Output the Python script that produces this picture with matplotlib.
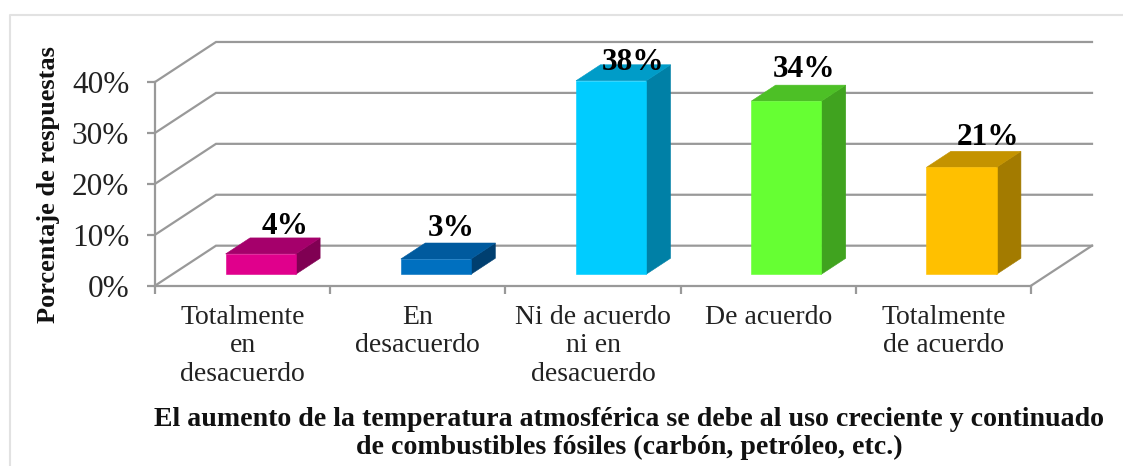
import matplotlib
matplotlib.use("Agg")
import matplotlib.pyplot as plt
from matplotlib.lines import Line2D
from matplotlib.patches import Polygon

plt.rcParams['font.family'] = ['Liberation Serif', 'DejaVu Serif']

categories = ["Totalmente\nen\ndesacuerdo", "En\ndesacuerdo", "Ni de acuerdo\nni en\ndesacuerdo",
              "De acuerdo", "Totalmente\nde acuerdo"]
values = [4, 3, 38, 34, 21]
y_ticks = [0, 10, 20, 30, 40]

front_colors = ["#E0008C", "#0070C0", "#00CCFF", "#66FF33", "#FFC000"]
top_colors = ["#A5006B", "#005A9E", "#009CC8", "#4DC026", "#C49300"]
side_colors = ["#800053", "#003F70", "#0080A6", "#40A31F", "#A37B00"]

W, H = 1123, 466
# axis box in pixels, measured from the top of the figure
LEFT, RIGHT, Y0, Y40 = 155, 1031, 285.7, 82

# depth of the 3d box, in data units
DEPTH_X = 61 / 175.2
DEPTH_Y = 40 / 5.09
BAR_WIDTH = 0.4
BAR_NEAR = 0.285
BAR_FAR = 0.685
BAR_SHIFT = 0.004
GRID = "#999999"
LW = 1.6

# label offsets from the bar top, in pixels
label_dx = [24, 15, 22, 18, 27]
label_dy = [27, 31, 18, 32, 30]

fig = plt.figure(figsize=(W / 100, H / 100), dpi=100, facecolor="white")
# outer frame: only the top and left edges show
fig.add_artist(Line2D([9.5 / W, 9.5 / W, 1], [0, 1 - 14.5 / H, 1 - 14.5 / H], transform=fig.transFigure,
                      color="#E2E2E2", lw=1.5))

ax = fig.add_axes([LEFT / W, 1 - Y0 / H, (RIGHT - LEFT) / W, (Y0 - Y40) / H])
ax.set_xlim(-0.5, 4.5)
ax.set_ylim(0, 40)
ax.patch.set_alpha(0)


def proj(x, y, d):
    return (x + d * DEPTH_X, y + d * DEPTH_Y)


# back wall and floor lines
for t in y_ticks:
    ax.plot(*zip(proj(-0.5, t, 0), proj(-0.5, t, 1), proj(4.5, t, 1)), color=GRID, lw=LW,
            clip_on=False, zorder=1, solid_joinstyle="miter")
ax.plot(*zip(proj(4.5, 0, 0), proj(4.5, 0, 1)), color=GRID, lw=LW, clip_on=False, zorder=1)

for i, v in enumerate(values):
    x0 = i - BAR_WIDTH / 2 + BAR_SHIFT
    x1 = i + BAR_WIDTH / 2 + BAR_SHIFT
    front = [proj(x0, 0, BAR_NEAR), proj(x1, 0, BAR_NEAR), proj(x1, v, BAR_NEAR), proj(x0, v, BAR_NEAR)]
    top = [proj(x0, v, BAR_NEAR), proj(x1, v, BAR_NEAR), proj(x1, v, BAR_FAR), proj(x0, v, BAR_FAR)]
    side = [proj(x1, 0, BAR_NEAR), proj(x1, 0, BAR_FAR), proj(x1, v, BAR_FAR), proj(x1, v, BAR_NEAR)]
    for pts, c in ((side, side_colors[i]), (top, top_colors[i]), (front, front_colors[i])):
        ax.add_patch(Polygon(pts, closed=True, facecolor=c, edgecolor=c, lw=0.4, clip_on=False, zorder=3))
    cx, cy = proj(i + BAR_SHIFT, v, BAR_NEAR)
    ax.annotate(f"{v}%", (cx, cy), xytext=(label_dx[i] * 0.72, label_dy[i] * 0.72), textcoords="offset points",
                ha="center", va="center", fontsize=22.5, fontweight="bold", color="black", zorder=5,
                annotation_clip=False)

for s in ("top", "right"):
    ax.spines[s].set_visible(False)
for s in ("left", "bottom"):
    ax.spines[s].set_color(GRID)
    ax.spines[s].set_linewidth(LW)

ax.set_yticks(y_ticks)
ax.set_yticklabels([f"{t}%" for t in y_ticks], fontsize=22.5, color="#222222")
ax.tick_params(axis="y", length=6, width=LW, color=GRID, pad=12.5)

# ticks sit on the category boundaries, labels between them
ax.set_xticks([i - 0.5 for i in range(len(categories) + 1)])
ax.set_xticklabels([])
ax.tick_params(axis="x", which="major", length=6, width=LW, color=GRID)
ax.set_xticks(range(len(categories)), minor=True)
ax.set_xticklabels(categories, minor=True, fontsize=20, color="#222222", linespacing=1.17, ma="center")
ax.tick_params(axis="x", which="minor", length=0, pad=14)

fig.text(49 / W, 1 - 185 / H, "Porcentaje de respuestas", rotation=90, ha="center", va="center",
         fontsize=19, fontweight="bold", color="#111111")
fig.text(629.5 / W, 1 - 433.5 / H,
         "El aumento de la temperatura atmosférica se debe al uso creciente y continuado\n"
         "de combustibles fósiles (carbón, petróleo, etc.)",
         ha="center", va="center", fontsize=20.1, fontweight="bold", color="#111111", linespacing=1.2)

fig.savefig("out.png", dpi=100)
